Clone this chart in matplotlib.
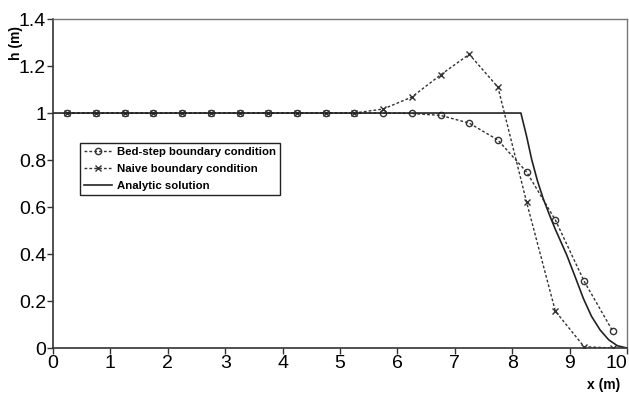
import numpy as np
import matplotlib.pyplot as plt

plt.rcParams['font.family'] = ['Liberation Sans', 'DejaVu Sans']

# cell centres
x_num = [0.25, 0.75, 1.25, 1.75, 2.25, 2.75, 3.25, 3.75, 4.25, 4.75,
         5.25, 5.75, 6.25, 6.75, 7.25, 7.75, 8.25, 8.75, 9.25, 9.75]

h_bedstep = [1, 1, 1, 1, 1, 1, 1, 1, 1, 1,
             1, 1, 0.998, 0.99, 0.957, 0.885, 0.749, 0.545, 0.285, 0.072]

h_naive = [1, 1, 1, 1, 1, 1, 1, 1, 1, 1,
           1.0, 1.017, 1.068, 1.162, 1.25, 1.11, 0.62, 0.157, 0.006, 0.0]

x_exact = [0.0, 8.15, 8.25, 8.34, 8.44, 8.54, 8.65, 8.75, 8.85, 8.95,
           9.1, 9.24, 9.38, 9.53, 9.68, 9.83, 10.0]
h_exact = [1.0, 1.0, 0.90, 0.80, 0.71, 0.635, 0.565, 0.505, 0.45, 0.395,
           0.30, 0.21, 0.135, 0.077, 0.035, 0.01, 0.0]

fig = plt.figure(figsize=(6.29, 3.96), dpi=100)
ax = fig.add_axes([0.0843, 0.121, 0.9127, 0.831])

dash = (0, (2, 1.5))
ax.plot(x_num, h_bedstep, color='#333333', lw=1, ls=dash, marker='o',
        ms=4.5, mfc='none', mew=1, label='Bed-step boundary condition')
ax.plot(x_num, h_naive, color='#333333', lw=1, ls=dash, marker='x',
        ms=4.5, mew=1, label='Naive boundary condition')
ax.plot(x_exact, h_exact, color='#222222', lw=1.2, label='Analytic solution')

ax.set_xlim(0, 10)
ax.set_ylim(0, 1.4)
ax.set_xticks(np.arange(0, 11, 1))
ax.set_yticks([0, 0.2, 0.4, 0.6, 0.8, 1, 1.2, 1.4])
ax.set_yticklabels(['0', '0.2', '0.4', '0.6', '0.8', '1', '1.2', '1.4'])
ax.tick_params(labelsize=14, length=4, width=1, color='#333333', pad=1)
# last x label sits against the right edge of the figure
ax.get_xticklabels()[-1].set_horizontalalignment('right')

for s in ['left', 'bottom']:
    ax.spines[s].set_color('#333333')
    ax.spines[s].set_linewidth(1.2)
for s in ['top', 'right']:
    ax.spines[s].set_color('#777777')
    ax.spines[s].set_linewidth(1)

fig.text(16/629, 1-43/396, 'h (m)', rotation=90, fontsize=10,
         fontweight='bold', ha='center', va='center')
fig.text(604/629, 1-385/396, 'x (m)', fontsize=10, fontweight='bold',
         ha='center', va='center')

leg = ax.legend(loc='upper left', bbox_to_anchor=(0.037, 0.64),
                prop={'weight': 'bold', 'size': 8.2}, frameon=True, fancybox=False,
                edgecolor='#222222', framealpha=1, borderpad=0.35,
                labelspacing=0.6, handlelength=2.5, handletextpad=0.4)
leg.get_frame().set_linewidth(1)

fig.savefig('out.png', dpi=100)
